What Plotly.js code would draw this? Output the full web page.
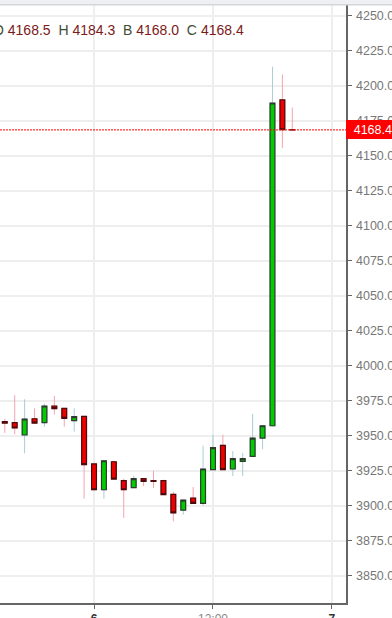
<!DOCTYPE html>
<html><head><meta charset="utf-8">
<script src="https://cdn.plot.ly/plotly-3.0.1.min.js"></script>
<style>html,body{margin:0;padding:0;background:#fff;overflow:hidden}#chart{width:392px;height:618px}</style>
</head><body><div id="chart"></div>
<script>
// ---- data (hourly candles) ----
const times = [
  '2020-03-05 15:00','2020-03-05 16:00','2020-03-05 17:00','2020-03-05 18:00','2020-03-05 19:00',
  '2020-03-05 20:00','2020-03-05 21:00','2020-03-05 22:00','2020-03-05 23:00','2020-03-06 00:00',
  '2020-03-06 01:00','2020-03-06 02:00','2020-03-06 03:00','2020-03-06 04:00','2020-03-06 05:00',
  '2020-03-06 06:00','2020-03-06 07:00','2020-03-06 08:00','2020-03-06 09:00','2020-03-06 10:00',
  '2020-03-06 11:00','2020-03-06 12:00','2020-03-06 13:00','2020-03-06 14:00','2020-03-06 15:00',
  '2020-03-06 16:00','2020-03-06 17:00','2020-03-06 18:00','2020-03-06 19:00','2020-03-06 20:00'
];
const opens  = [3960.0,3959.3,3950.5,3962.1,3959.3,3971.2,3969.5,3960.7,3963.8,3929.8,
                3911.4,3931.4,3917.9,3912.9,3919.3,3917.9,3917.9,3908.1,3896.9,3905.5,
                3901.7,3925.7,3943.1,3926.2,3931.7,3935.2,3948.3,3957.1,4189.8,4168.5];
const highs  = [3962.0,3979.0,3976.0,3969.5,3973.0,3978.3,3969.8,3969.5,3964.0,3930.2,
                3932.5,3932.1,3919.3,3921.4,3919.5,3925.0,3918.6,3910.0,3904.3,3913.3,
                3942.9,3950.7,3950.7,3939.0,3937.6,3965.7,3957.3,4213.6,4208.0,4184.3];
const lows   = [3952.0,3951.0,3937.4,3958.5,3956.4,3965.2,3956.4,3952.9,3905.0,3911.0,
                3905.0,3919.0,3891.2,3912.5,3914.0,3912.6,3907.9,3888.8,3893.6,3901.7,
                3900.0,3925.7,3925.7,3921.2,3921.2,3935.2,3940.4,3956.5,4155.5,4168.0];
const closes = [3959.0,3955.5,3961.9,3959.0,3971.2,3969.3,3962.4,3963.6,3929.3,3911.4,
                3932.1,3919.0,3911.4,3919.3,3917.4,3917.4,3907.9,3894.8,3904.0,3901.7,
                3926.2,3941.4,3925.7,3933.6,3933.6,3948.3,3957.1,4187.6,4168.5,4168.4];

const xTickVals = ['2020-03-06 00:00','2020-03-06 12:00','2020-03-07 00:00'];
const xTickText = ['6','12:00','7'];
const xTickBold = [true,false,true];
const headerLabels = ['O','H','B','C'];

// ---- derived ----
const n = closes.length - 1;
const headerValues = [opens[n], highs[n], lows[n], closes[n]];
const bodyHigh = opens.map((o,i)=>Math.max(o,closes[i]));
const bodyLow  = opens.map((o,i)=>Math.min(o,closes[i]));

const wicks = {
  type:'candlestick', x:times, open:opens, high:highs, low:lows, close:closes,
  increasing:{line:{color:'#a9cdd6',width:1}, fillcolor:'#00cc00'},
  decreasing:{line:{color:'#f5a3b0',width:1}, fillcolor:'#ee0000'},
  hoverinfo:'skip', showlegend:false
};
const bodies = {
  type:'candlestick', x:times, open:opens, high:bodyHigh, low:bodyLow, close:closes,
  increasing:{line:{color:'#2c3d2c',width:1.2}, fillcolor:'#00cc00'},
  decreasing:{line:{color:'#4d0a0a',width:1.2}, fillcolor:'#ee0000'},
  hoverinfo:'skip', showlegend:false
};

const valColor = '#7b1a1a', labColor = '#3e4d33';
const headerText = headerLabels.map((l,i)=>
  '<span style="color:'+labColor+'">'+l+'</span> <span style="color:'+valColor+'">'+headerValues[i].toFixed(1)+'</span>'
).join('&nbsp;&nbsp;');

const tickText = xTickText.map((t,i)=> xTickBold[i] ? '<span style="color:#333"><b>'+t+'</b></span>' : t);

const layout = {
  width:392, height:618,
  margin:{l:0,r:46,t:5,b:15,pad:0},
  paper_bgcolor:'#ffffff', plot_bgcolor:'#ffffff',
  showlegend:false, hovermode:false, dragmode:false,
  font:{family:'"Liberation Sans", Arial, sans-serif', size:12, color:'#777'},
  xaxis:{
    type:'date', range:['2020-03-05 14:31','2020-03-07 01:25'],
    rangeslider:{visible:false},
    tickmode:'array', tickvals:xTickVals, ticktext:tickText,
    ticks:'outside', ticklen:4, tickcolor:'#666', tickwidth:1,
    showline:true, linecolor:'#666', linewidth:1.5,
    showgrid:true, gridcolor:'#eeeeee', gridwidth:2, zeroline:false,
    tickfont:{size:12, color:'#888'}
  },
  yaxis:{
    side:'right', range:[3830.5,4257.6],
    tickmode:'linear', tick0:3850, dtick:25, tickformat:'.1f',
    ticks:'outside', ticklen:4, tickcolor:'#666', tickwidth:1,
    ticklabelstandoff:2,
    showline:true, linecolor:'#666', linewidth:1.5,
    showgrid:true, gridcolor:'#eeeeee', gridwidth:2, zeroline:false,
    tickfont:{size:12.5, color:'#777'}
  },
  shapes:[
    {type:'rect', xref:'paper', yref:'paper', x0:0, x1:1.2, y0:1, y1:1.02,
     fillcolor:'#eef0f4', line:{width:0}, layer:'above'},
    {type:'line', xref:'paper', yref:'paper', x0:0, x1:1.2, y0:1.0005, y1:1.0005,
     line:{color:'#d4d6da', width:1.5}, layer:'above'},
    {type:'line', xref:'paper', yref:'y', x0:0, x1:1, y0:closes[n], y1:closes[n],
     line:{color:'#ff0000', width:1, dash:'2px,1px'}, layer:'above'}
  ],
  annotations:[
    {xref:'paper', yref:'paper', x:0, xshift:-9.5, y:1-(25/598), xanchor:'left', yanchor:'middle',
     showarrow:false, text:headerText, font:{size:14, family:'"Liberation Sans", Arial, sans-serif'}},
    {xref:'paper', yref:'y', x:1, y:closes[n], xanchor:'left', yanchor:'middle',
     showarrow:false, text:closes[n].toFixed(1), bgcolor:'#ff0000', borderwidth:0, borderpad:2,
     width:44, height:15, align:'right', valign:'middle',
     font:{size:12.5, color:'#ffffff', family:'"Liberation Sans", Arial, sans-serif'}}
  ]
};

Plotly.newPlot('chart', [wicks, bodies], layout, {displayModeBar:false, staticPlot:true});
</script>
</body></html>
